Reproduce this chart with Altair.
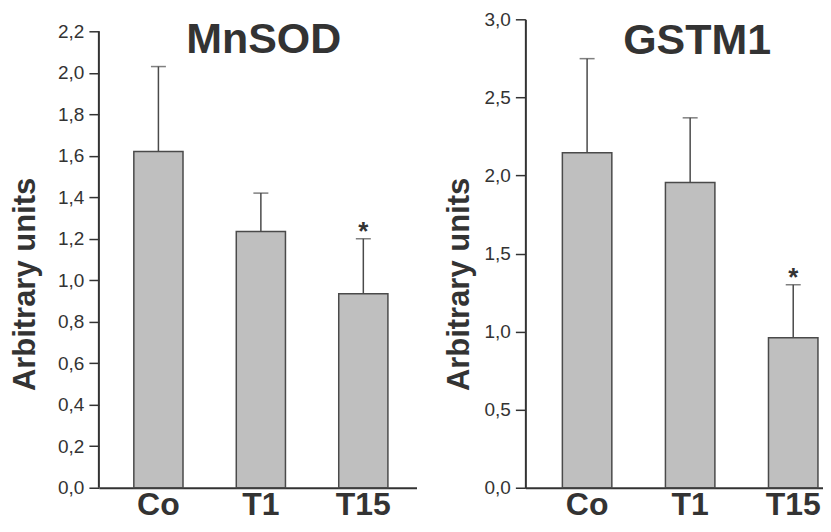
import altair as alt
import pandas as pd

FONT = "Liberation Sans"
DARK = "#333333"
EDGE = "#4a4a4a"
FILL = "#bfbfbf"

groups = ["Co", "T1", "T15"]
sig = ["", "", "*"]

mnsod_mean = [1.62, 1.235, 0.935]
mnsod_err = [0.41, 0.185, 0.265]

gstm1_mean = [2.145, 1.955, 0.96]
gstm1_err = [0.603, 0.414, 0.34]

mnsod_ticks = [0.0, 0.1, 0.2, 0.3, 0.4, 0.5, 0.6, 0.7, 0.8, 0.9, 1.0, 1.1,
               1.2, 1.3, 1.4, 1.5, 1.6, 1.7, 1.8, 1.9, 2.0, 2.1, 2.2]
gstm1_ticks = [0.0, 0.25, 0.5, 0.75, 1.0, 1.25, 1.5, 1.75, 2.0, 2.25, 2.5, 2.75, 3.0]

PLOT_H = 469


def panel(title, means, errs, ticks, major, scale_max, axis_max, width,
          pad_outer, align, title_x, title_dx, title_dy, draw_domain_rule):
    df = pd.DataFrame({
        "group": groups,
        "mean": means,
        "upper": [m + e for m, e in zip(means, errs)],
        "sig": sig,
    })
    xscale = alt.Scale(paddingInner=0.52, paddingOuter=pad_outer, align=align)
    x = alt.X("group:N", sort=groups, title=None, scale=xscale,
              axis=alt.Axis(labelFont=FONT, labelFontSize=32, labelFontWeight="bold",
                            labelColor=DARK, labelAngle=0, ticks=False, labelPadding=2,
                            domainColor=DARK, domainWidth=2))
    yscale = alt.Scale(domain=[0, scale_max], nice=False, zero=True)
    test = f"abs(datum.value / {major} - round(datum.value / {major})) < 0.001"
    yaxis = alt.Axis(
        values=ticks,
        labelExpr=f"({test}) ? replace(format(datum.value, '.1f'), '.', ',') : ''",
        tickSize={"condition": {"test": test, "value": 10}, "value": 6},
        tickColor=DARK, tickWidth=1.5,
        domain=not draw_domain_rule, domainColor=DARK, domainWidth=2,
        labelFont=FONT, labelFontSize=19, labelColor=DARK, labelPadding=5,
        grid=False,
        title="Arbitrary units", titleFont=FONT, titleFontSize=31,
        titleFontWeight="bold", titleColor=DARK,
        titleX=title_x, titleY=265, titleAngle=-90, titleAlign="center",
        titleBaseline="bottom",
    )
    base = alt.Chart(df)
    bars = base.mark_bar(fill=FILL, stroke=EDGE, strokeWidth=1.5).encode(
        x=x, y=alt.Y("mean:Q", scale=yscale, axis=yaxis))
    rules = base.mark_rule(color=EDGE, strokeWidth=1.5).encode(
        x=alt.X("group:N", sort=groups), y="mean:Q", y2="upper:Q")
    caps = base.mark_tick(size=15, thickness=1.5, color=EDGE).encode(
        x=alt.X("group:N", sort=groups), y="upper:Q")
    stars = base.mark_text(font=FONT, fontSize=26, fontWeight="bold", color=DARK,
                           baseline="alphabetic", dy=1).encode(
        x=alt.X("group:N", sort=groups), y="upper:Q", text="sig:N")
    layers = [bars, rules, caps, stars]
    if draw_domain_rule:
        dom = alt.Chart(pd.DataFrame({"v": [0]})).mark_rule(
            color=DARK, strokeWidth=2).encode(
            x=alt.value(0), y=alt.datum(0), y2=alt.datum(axis_max))
        layers.append(dom)
    return alt.layer(*layers).properties(
        width=width, height=PLOT_H,
        title=alt.TitleParams(title, font=FONT, fontSize=43, fontWeight="bold",
                              color=DARK, anchor="middle", dx=title_dx, dy=title_dy),
    )


left = panel("MnSOD", mnsod_mean, mnsod_err, mnsod_ticks, 0.2,
             2.2 * 469 / 457, 2.2, 318, 0.31, 0.55, -57, 6, 47, True)
right = panel("GSTM1", gstm1_mean, gstm1_err, gstm1_ticks, 0.5,
              3.0, 3.0, 298, 0.204, 0.88, -50, 23, 57, False)

chart = alt.hconcat(left, right, spacing=27).properties(
    padding={"left": 2, "top": 2, "right": 0, "bottom": 0},
    background="white",
).configure_view(stroke=None)

chart.save("out.html", embed_options={"renderer": "svg", "actions": False})
